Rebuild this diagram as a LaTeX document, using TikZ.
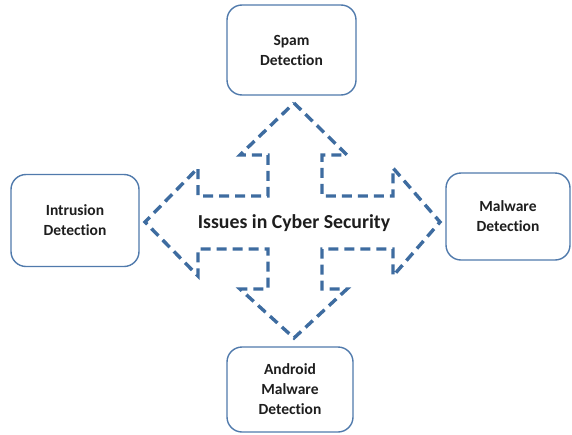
\documentclass[tikz,border=0pt]{standalone}
\usepackage{fontspec}
\setmainfont{Carlito}[Ligatures=NoCommon]
\usetikzlibrary{positioning}

\definecolor{crossblue}{RGB}{62,108,160}
\definecolor{boxblue}{RGB}{80,122,172}
\definecolor{textgray}{RGB}{30,30,30}

\begin{document}
\begin{tikzpicture}[x=1pt, y=-1pt,
    issuebox/.style={draw=boxblue, line width=1.4pt, rounded corners=15pt, fill=white,
      align=center, text=textgray, font=\fontsize{15.5}{20}\selectfont\bfseries, inner sep=0pt},
    crossline/.style={draw=crossblue, line width=3.4pt, dash pattern=on 10pt off 6pt, line join=miter}]

  \useasboundingbox (0,0) rectangle (572,434);

  % Cross arrow
  \draw[crossline] (294,103) -- (347,155) -- (322,155) -- (322,196) -- (393,196) -- (393,168)
    -- (440,222) -- (393,276) -- (393,249) -- (322,249) -- (322,289) -- (347,289)
    -- (294,338) -- (240,289) -- (268,289) -- (268,249) -- (198,249) -- (198,276)
    -- (145,222) -- (198,168) -- (198,196) -- (268,196) -- (268,155) -- (240,155) -- cycle;

  \node[text=textgray, font=\fontsize{19.8}{22}\selectfont\bfseries] (issues) at (294,223) {Issues in Cyber Security};

  % Boxes
  \node[issuebox, minimum width=129pt, minimum height=90pt] (spam) at (291.5,50) {Spam\\Detection};
  \node[issuebox, minimum width=128pt, minimum height=92pt] (intrusion) at (75,220.5) {Intrusion\\Detection};
  \node[issuebox, minimum width=124pt, minimum height=87pt] (malware) at (508,216.5) {Malware\\Detection};
  \node[issuebox, minimum width=126pt, minimum height=85pt] (android) at (290,389.5) {Android\\Malware\\Detection};

\end{tikzpicture}
\end{document}
